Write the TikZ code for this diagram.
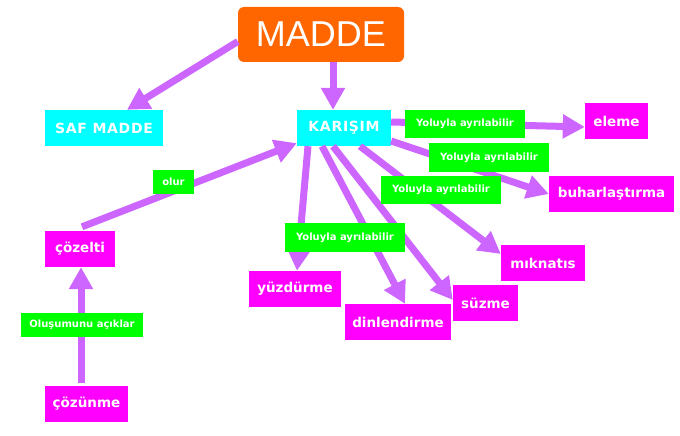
\documentclass[tikz,border=0pt]{standalone}
\usepackage{fontspec}
\setmainfont{DejaVu Sans}
\newfontfamily\maddefont{Liberation Sans}
\usetikzlibrary{arrows.meta,positioning}
\definecolor{linkviolet}{HTML}{CC66FF}
\definecolor{rootorange}{HTML}{FF6600}
\definecolor{kindcyan}{HTML}{00FFFF}
\definecolor{waymagenta}{HTML}{FF00FF}
\definecolor{notegreen}{HTML}{00FF00}
\tikzset{
  root/.style={fill=rootorange, text=white, rounded corners=6pt, inner sep=0pt,
    minimum width=166pt, minimum height=55pt, font=\maddefont\fontsize{36}{40}\selectfont},
  kind/.style={fill=kindcyan, text=white, inner sep=0pt, minimum height=36pt,
    font=\bfseries\fontsize{14}{16}\selectfont\addfontfeature{LetterSpace=5}},
  way/.style={fill=waymagenta, text=white, inner sep=0pt, minimum height=36pt,
    font=\bfseries\fontsize{13.5}{15}\selectfont},
  note/.style={fill=notegreen, text=white, inner sep=0pt,
    font=\bfseries\fontsize{10}{11}\selectfont},
  link/.style={draw=linkviolet, line width=7pt, -{Triangle[length=22pt,width=23pt]}}
}
\begin{document}
\begin{tikzpicture}[x=1pt, y=-1pt]
    \useasboundingbox (0,0) rectangle (680,436);

    \node[root] (madde) at (321,34.5) {MADDE};
    \node[kind, minimum width=118pt] (saf) at (104,128) {SAF MADDE};
    \node[kind, minimum width=94pt] (karisim) at (344,128) {KARIŞIM};

    \node[way, minimum width=63pt] (eleme) at (616.5,121) {eleme};
    \node[way, minimum width=125pt] (buhar) at (611.5,194) {buharlaştırma};
    \node[way, minimum width=84pt] (miknatis) at (543,263) {mıknatıs};
    \node[way, minimum width=65pt] (suzme) at (485.5,303) {süzme};
    \node[way, minimum width=106pt] (dinlen) at (398,322) {dinlendirme};
    \node[way, minimum width=92pt] (yuzdur) at (295,289) {yüzdürme};
    \node[way, minimum width=70pt] (cozelti) at (80,249) {çözelti};
    \node[way, minimum width=83pt] (cozunme) at (86.5,404) {çözünme};

    \draw[link] ([yshift=-7pt]madde.west) -- ([xshift=23pt]saf.north);
    \draw[link] ([xshift=12pt]madde.south) -- ([xshift=-11pt]karisim.north);

    \draw[link] ([yshift=6pt]karisim.east) -- ([yshift=-6pt]eleme.west);
    \draw[link] ([yshift=-13pt]karisim.east) -- (buhar.west);
    \draw[link] ([xshift=16pt]karisim.south) -- ([yshift=9pt]miknatis.west);
    \draw[link] ([xshift=-11pt]karisim.south) -- ([yshift=3pt]suzme.west);
    \draw[link] ([xshift=-22pt]karisim.south) -- ([xshift=7pt]dinlen.north);
    \draw[link] ([xshift=-36pt]karisim.south) -- ([xshift=2pt]yuzdur.north);

    \draw[link] ([xshift=2pt,yshift=4pt]cozelti.north) -- ([yshift=3pt]karisim.south west);
    \draw[link] ([xshift=-5.5pt,yshift=3pt]cozunme.north) -- ([xshift=1pt]cozelti.south);

    \node[note, minimum width=120pt, minimum height=28pt] (ayr1) at (465,124) {Yoluyla ayrılabilir};
    \node[note, minimum width=120pt, minimum height=29pt] (ayr2) at (489,157.5) {Yoluyla ayrılabilir};
    \node[note, minimum width=120pt, minimum height=28pt] (ayr3) at (441,190) {Yoluyla ayrılabilir};
    \node[note, minimum width=120pt, minimum height=29pt] (ayr4) at (345,237.5) {Yoluyla ayrılabilir};
    \node[note, minimum width=41pt, minimum height=24pt] (olur) at (173.5,182) {olur};
    \node[note, minimum width=122pt, minimum height=24pt] (olusum) at (82,325) {Oluşumunu açıklar};
\end{tikzpicture}
\end{document}
